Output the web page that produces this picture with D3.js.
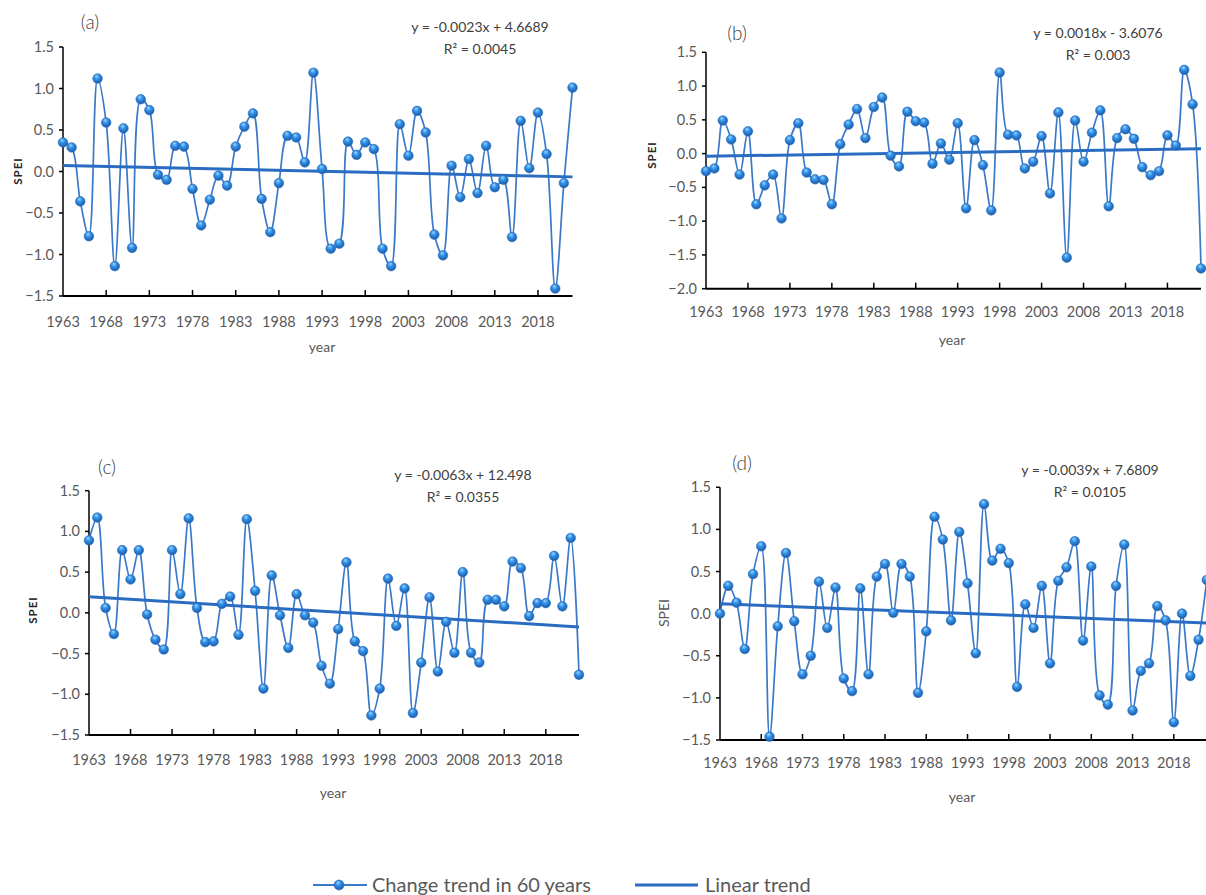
<!DOCTYPE html>
<html lang="en">
<head>
<meta charset="UTF-8" />
<title>SPEI change trend</title>
<script src="https://cdn.jsdelivr.net/npm/d3@7"></script>
<style>
    body { margin: 0; background: #fff; }
    svg { display: block; font-family: Lato, "Open Sans", sans-serif; }
    .tick-label { fill: #595959; font-size: 14.5px; }
    .eq { fill: #404040; font-size: 14px; }
    .title { fill: #404040; font-size: 19px; font-weight: 300; }
    .xlab { fill: #595959; font-size: 14px; }
    .legend text { fill: #595959; font-size: 20px; }
</style>
</head>
<body>
<div id="chart"></div>
<script>
    const years = d3.range(1963, 2023);
    const xTickYears = [1963, 1968, 1973, 1978, 1983, 1988, 1993, 1998, 2003, 2008, 2013, 2018];

    const spei_a = [0.35, 0.29, -0.36, -0.78, 1.12, 0.59, -1.14, 0.52, -0.92, 0.87,
        0.74, -0.04, -0.10, 0.31, 0.30, -0.21, -0.65, -0.34, -0.05, -0.17,
        0.30, 0.54, 0.70, -0.33, -0.73, -0.14, 0.43, 0.41, 0.11, 1.19,
        0.03, -0.93, -0.87, 0.36, 0.20, 0.35, 0.27, -0.93, -1.14, 0.57,
        0.19, 0.73, 0.47, -0.76, -1.01, 0.07, -0.31, 0.15, -0.26, 0.31,
        -0.19, -0.10, -0.79, 0.61, 0.04, 0.71, 0.21, -1.41, -0.14, 1.01];

    const spei_b = [-0.26, -0.22, 0.49, 0.21, -0.31, 0.33, -0.75, -0.47, -0.31, -0.96,
        0.20, 0.45, -0.28, -0.38, -0.39, -0.75, 0.14, 0.43, 0.66, 0.23,
        0.69, 0.83, -0.03, -0.19, 0.62, 0.48, 0.46, -0.15, 0.15, -0.09,
        0.45, -0.81, 0.20, -0.17, -0.84, 1.20, 0.28, 0.27, -0.22, -0.12,
        0.26, -0.59, 0.61, -1.54, 0.49, -0.12, 0.31, 0.64, -0.78, 0.23,
        0.36, 0.22, -0.20, -0.32, -0.26, 0.27, 0.12, 1.24, 0.73, -1.70];

    const spei_c = [0.89, 1.17, 0.06, -0.26, 0.77, 0.41, 0.77, -0.02, -0.33, -0.45,
        0.77, 0.23, 1.16, 0.06, -0.36, -0.35, 0.11, 0.20, -0.27, 1.15,
        0.27, -0.93, 0.46, -0.03, -0.43, 0.23, -0.03, -0.12, -0.65, -0.87,
        -0.20, 0.62, -0.35, -0.47, -1.26, -0.93, 0.42, -0.16, 0.30, -1.23,
        -0.61, 0.19, -0.72, -0.11, -0.49, 0.50, -0.49, -0.61, 0.16, 0.16,
        0.08, 0.63, 0.55, -0.04, 0.12, 0.12, 0.70, 0.08, 0.92, -0.76];

    const spei_d = [0.00, 0.33, 0.13, -0.42, 0.47, 0.80, -1.46, -0.15, 0.72, -0.09,
        -0.72, -0.50, 0.38, -0.17, 0.31, -0.77, -0.92, 0.30, -0.72, 0.44,
        0.59, 0.01, 0.59, 0.44, -0.94, -0.21, 1.15, 0.88, -0.08, 0.97,
        0.36, -0.47, 1.30, 0.63, 0.77, 0.60, -0.87, 0.11, -0.17, 0.33,
        -0.59, 0.39, 0.55, 0.86, -0.32, 0.56, -0.97, -1.08, 0.33, 0.82,
        -1.15, -0.68, -0.59, 0.09, -0.08, -1.29, 0.00, -0.74, -0.31, 0.40];

    const equations = [
        ['y = -0.0023x + 4.6689', 'R² = 0.0045'],
        ['y = 0.0018x - 3.6076', 'R² = 0.003'],
        ['y = -0.0063x + 12.498', 'R² = 0.0355'],
        ['y = -0.0039x + 7.6809', 'R² = 0.0105']
    ];
    const titles = ['(a)', '(b)', '(c)', '(d)'];
    const yDomains = [[-1.5, 1.5], [-2.0, 1.5], [-1.5, 1.5], [-1.5, 1.5]];
    const legendLabels = ['Change  trend in 60 years', 'Linear trend'];

    // layout of each panel (pixels)
    const panels = [
        { data: spei_a, x0: 63, x1: 572.5, yT: 47, yB: 296, title: [90, 22], eq: [480, 27], spei: [18, 171], year: [322, 347], tickY: 327, speiBold: true },
        { data: spei_b, x0: 706, x1: 1201, yT: 52.3, yB: 288.7, title: [737, 33], eq: [1098, 33], spei: [652, 155], year: [952, 340], tickY: 317, speiBold: true },
        { data: spei_c, x0: 89, x1: 579, yT: 490.7, yB: 735, title: [107, 467], eq: [463, 475], spei: [33, 610], year: [333, 793], tickY: 765, speiBold: true },
        { data: spei_d, x0: 720, x1: 1206.8, yT: 487.3, yB: 740, title: [742, 463], eq: [1090, 470], spei: [665, 613], year: [962, 797], tickY: 768, speiBold: false }
    ];

    const lineColor = '#3a78c9';
    const trendColor = '#2a6cc2';

    const svg = d3.select('#chart').append('svg')
        .attr('width', 1206)
        .attr('height', 895);

    const defs = svg.append('defs');
    const grad = defs.append('radialGradient')
        .attr('id', 'dot')
        .attr('cx', '45%').attr('cy', '40%').attr('r', '60%')
        .attr('fx', '40%').attr('fy', '25%');
    grad.append('stop').attr('offset', '0%').attr('stop-color', '#9ad4ff');
    grad.append('stop').attr('offset', '45%').attr('stop-color', '#2f8fe6');
    grad.append('stop').attr('offset', '100%').attr('stop-color', '#1a5aa8');

    const fmt = d3.format('.1f');

    // least squares fit over the years
    function linearFit(vals) {
        const mx = d3.mean(years), my = d3.mean(vals);
        let sxy = 0, sxx = 0;
        years.forEach((yr, i) => { sxy += (yr - mx) * (vals[i] - my); sxx += (yr - mx) ** 2; });
        const b = sxy / sxx;
        return yr => my + b * (yr - mx);
    }

    panels.forEach((p, k) => {
        const g = svg.append('g');
        const x = d3.scaleLinear().domain([1963, 2022]).range([p.x0, p.x1]);
        const y = d3.scaleLinear().domain(yDomains[k]).range([p.yB, p.yT]);

        // y axis
        const yTicks = d3.range(yDomains[k][0], yDomains[k][1] + 0.01, 0.5);
        g.append('line')
            .attr('x1', p.x0).attr('x2', p.x0)
            .attr('y1', p.yT).attr('y2', p.yB)
            .attr('stroke', '#000').attr('stroke-width', 1.5);
        g.selectAll('.yt').data(yTicks).enter().append('line')
            .attr('x1', p.x0 - 4).attr('x2', p.x0)
            .attr('y1', d => y(d)).attr('y2', d => y(d))
            .attr('stroke', '#000').attr('stroke-width', 1.5);
        g.selectAll('.yl').data(yTicks).enter().append('text')
            .attr('class', 'tick-label')
            .attr('x', p.x0 - 9)
            .attr('y', d => y(d) + 5)
            .attr('text-anchor', 'end')
            .text(d => fmt(d));

        // x axis
        g.append('line')
            .attr('x1', p.x0).attr('x2', p.x1)
            .attr('y1', p.yB).attr('y2', p.yB)
            .attr('stroke', '#000').attr('stroke-width', 2);
        g.selectAll('.xt').data(xTickYears.slice(1)).enter().append('line')
            .attr('x1', d => x(d)).attr('x2', d => x(d))
            .attr('y1', p.yB - 6).attr('y2', p.yB)
            .attr('stroke', '#000').attr('stroke-width', 1.5);
        g.selectAll('.xl').data(xTickYears).enter().append('text')
            .attr('class', 'tick-label')
            .attr('x', d => x(d))
            .attr('y', p.tickY)
            .attr('text-anchor', 'middle')
            .text(d => d);

        // series line
        const line = d3.line()
            .x((d, i) => x(years[i]))
            .y(d => y(d))
            .curve(d3.curveCatmullRom.alpha(0.5));
        g.append('path')
            .datum(p.data)
            .attr('d', line)
            .attr('fill', 'none')
            .attr('stroke', lineColor)
            .attr('stroke-width', 1.7);

        // trend line
        const fit = linearFit(p.data);
        g.append('line')
            .attr('x1', x(1963)).attr('y1', y(fit(1963)))
            .attr('x2', x(2022)).attr('y2', y(fit(2022)))
            .attr('stroke', trendColor)
            .attr('stroke-width', 3);

        // markers
        g.selectAll('.dot').data(p.data).enter().append('circle')
            .attr('cx', (d, i) => x(years[i]))
            .attr('cy', d => y(d))
            .attr('r', 4.8)
            .attr('fill', 'url(#dot)')
            .attr('stroke', '#2d6bb8')
            .attr('stroke-width', 0.6);

        // texts
        g.append('text').attr('class', 'title')
            .attr('x', p.title[0]).attr('y', p.title[1] + 7)
            .attr('text-anchor', 'middle')
            .text(titles[k]);
        g.append('text').attr('class', 'eq')
            .attr('x', p.eq[0]).attr('y', p.eq[1] + 5)
            .attr('text-anchor', 'middle')
            .text(equations[k][0]);
        g.append('text').attr('class', 'eq')
            .attr('x', p.eq[0]).attr('y', p.eq[1] + 27)
            .attr('text-anchor', 'middle')
            .text(equations[k][1]);
        g.append('text')
            .attr('transform', `translate(${p.spei[0] + 4},${p.spei[1]}) rotate(-90)`)
            .attr('text-anchor', 'middle')
            .attr('font-size', p.speiBold ? 11.5 : 14)
            .attr('font-weight', p.speiBold ? 'bold' : 'normal')
            .attr('letter-spacing', p.speiBold ? 1 : 0)
            .attr('fill', p.speiBold ? '#262626' : '#595959')
            .text('SPEI');
        g.append('text').attr('class', 'xlab')
            .attr('x', p.year[0]).attr('y', p.year[1] + 5)
            .attr('text-anchor', 'middle')
            .text('year');
    });

    // legend
    const lg = svg.append('g').attr('class', 'legend');
    lg.append('line').attr('x1', 313).attr('x2', 367).attr('y1', 885).attr('y2', 885)
        .attr('stroke', lineColor).attr('stroke-width', 2);
    lg.append('circle').attr('cx', 339).attr('cy', 885).attr('r', 5)
        .attr('fill', 'url(#dot)').attr('stroke', '#2d6bb8').attr('stroke-width', 0.6);
    lg.append('text').attr('x', 372).attr('y', 892).text(legendLabels[0]);
    lg.append('line').attr('x1', 635).attr('x2', 698).attr('y1', 885).attr('y2', 885)
        .attr('stroke', trendColor).attr('stroke-width', 3);
    lg.append('text').attr('x', 705).attr('y', 892).text(legendLabels[1]);
</script>
</body>
</html>
